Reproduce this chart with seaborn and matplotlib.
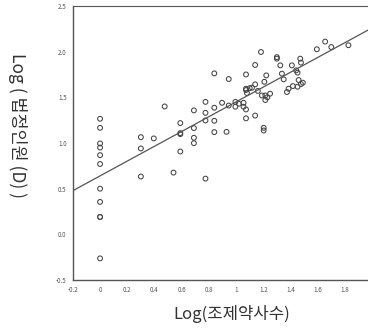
import matplotlib
matplotlib.use("Agg")
import matplotlib.pyplot as plt
import seaborn as sns
import numpy as np
import pandas as pd

# Data
x_vals = [0]*11 + [0.3]*3 + [0.395, 0.475, 0.54] + [0.59]*4 + [0.69]*4 + [0.775]*4 + [0.84]*4 + \
    [0.93, 0.946, 0.897, 0.946, 0.995, 0.995, 1.055, 1.055] + [1.073]*5 + [1.08] + [1.14]*3 + \
    [1.117, 1.183, 1.19, 1.208, 1.203, 1.203, 1.215, 1.215, 1.222, 1.25, 1.30, 1.30, 1.325, 1.337,
     1.35, 1.386, 1.374, 1.41, 1.442, 1.452, 1.472, 1.477, 1.46, 1.477, 1.491, 1.418, 1.452,
     1.594, 1.655, 1.70, 1.826, 1.16, 1.23, 1.02, 1.10]
y_vals = [1.265, 1.166, 0.995, 0.95, 0.867, 0.77, 0.50, 0.355, 0.19, 0.19, -0.263,
          1.064, 0.94, 0.633, 1.05, 1.40, 0.676,
          1.218, 1.108, 1.097, 0.907,
          1.357, 1.163, 1.057, 0.998,
          0.61, 1.247, 1.33, 1.45,
          1.762, 1.386, 1.243, 1.119,
          1.122, 1.70, 1.44, 1.41, 1.397, 1.45, 1.44, 1.397,
          1.75, 1.58, 1.594, 1.367, 1.27, 1.547,
          1.854, 1.642, 1.30,
          1.605, 1.996, 1.52, 1.67, 1.166, 1.137, 1.47, 1.52, 1.74, 1.54, 1.94, 1.923, 1.85, 1.759,
          1.697, 1.594, 1.558, 1.85, 1.795, 1.77, 1.923, 1.88, 1.689, 1.645, 1.66, 1.623, 1.616,
          2.026, 2.11, 2.05, 2.07, 1.57, 1.50, 1.43, 1.60]

fit_intercept = 0.64
fit_slope = 0.81

x_ticks = [-0.2, 0, 0.2, 0.4, 0.6, 0.8, 1, 1.2, 1.4, 1.6, 1.8]
x_tick_labels = ["-0.2", "0", "0.2", "0.4", "0.6", "0.8", "1", "1.2", "1.4", "1.6", "1.8"]
y_ticks = [-0.5, 0.0, 0.5, 1.0, 1.5, 2.0, 2.5]
y_tick_labels = ["-0.5", "0.0", "0.5", "1.0", "1.5", "2.0", "2.5"]

x_label = "Log(조제약사수)"
y_label = "Log ( 법정인원 (D) )"

sns.set_style("white")
plt.rcParams['font.family'] = ['Noto Sans CJK KR', 'DejaVu Sans']

df = pd.DataFrame({"x": x_vals, "y": y_vals})
xlim = (-0.2, 1.97)
line_x = np.array(xlim)
line_df = pd.DataFrame({"x": line_x, "y": fit_intercept + fit_slope * line_x})

fig = plt.figure(figsize=(3.68, 3.31), dpi=100)
ax = fig.add_axes([0.198, 0.154, 0.802, 0.828])

sns.lineplot(data=line_df, x="x", y="y", ax=ax, color="#555555", lw=0.9)
sns.scatterplot(data=df, x="x", y="y", ax=ax, s=12, facecolor="none",
                edgecolor="#444444", linewidth=0.75, marker="o")

ax.set_xlim(*xlim)
ax.set_ylim(-0.5, 2.5)
ax.set_xticks(x_ticks)
ax.set_xticklabels(x_tick_labels)
ax.set_yticks(y_ticks)
ax.set_yticklabels(y_tick_labels)
ax.tick_params(axis="both", direction="inout", length=3, width=0.8, labelsize=4.5,
               colors="#555555", pad=3, labelcolor="#555555")
for s in ["left", "bottom", "top"]:
    ax.spines[s].set_color("#555555")
    ax.spines[s].set_linewidth(1.0)
ax.spines["right"].set_visible(False)
ax.spines["top"].set_linewidth(0.8)

ax.set_xlabel(x_label, fontsize=12, color="#333333")
ax.xaxis.set_label_coords(0.54, -0.09)
ax.set_ylabel(y_label, fontsize=12.5, color="#333333", rotation=270)
ax.yaxis.set_label_coords(-0.22, 0.565)

fig.savefig("out.png", dpi=100)
